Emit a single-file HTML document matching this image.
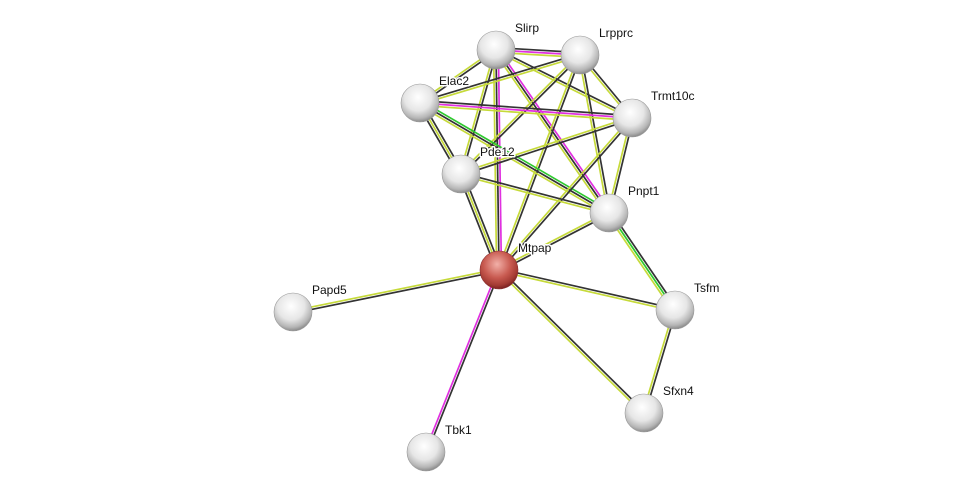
<!DOCTYPE html>
<html><head><meta charset="utf-8"><style>
html,body{margin:0;padding:0;background:#fff;}
svg{display:block;}
text{font-family:"Liberation Sans",Arial,sans-serif;font-size:12px;fill:#111;stroke:#fff;stroke-width:3px;paint-order:stroke;stroke-linejoin:round;}
</style></head><body>
<svg id="s" width="976" height="497" viewBox="0 0 976 497" xmlns="http://www.w3.org/2000/svg">
<defs>
<radialGradient id="g" cx="45%" cy="35%" r="65%">
<stop offset="0" stop-color="#ffffff"/><stop offset="0.55" stop-color="#e6e6e6"/><stop offset="0.85" stop-color="#b5b5b5"/><stop offset="1" stop-color="#8a8a8a"/>
</radialGradient>
<radialGradient id="r" cx="45%" cy="35%" r="65%">
<stop offset="0" stop-color="#f2b0a8"/><stop offset="0.55" stop-color="#c85a50"/><stop offset="0.85" stop-color="#a33a33"/><stop offset="1" stop-color="#7a2020"/>
</radialGradient>
</defs>
<g id="edges"></g><g id="nodes"></g>
</svg>
<script>
var N={Slirp:[496,50],Lrpprc:[580,55],Elac2:[420,103],Trmt10c:[632,118],Pde12:[461,174],Pnpt1:[609,213],Mtpap:[499,270],Papd5:[293,312],Tsfm:[675,310],Sfxn4:[644,413],Tbk1:[426,452]};
var C={k:"#333",y:"#c6da3a",m:"#e030e0",g:"#2ec82e"};
var E=[["Slirp","Lrpprc","kmy"],["Slirp","Elac2","ky"],["Slirp","Trmt10c","ky"],["Slirp","Pde12","ky"],["Slirp","Pnpt1","mky"],["Slirp","Mtpap","mky"],
["Lrpprc","Elac2","yk"],["Lrpprc","Trmt10c","ky"],["Lrpprc","Pde12","ky"],["Lrpprc","Pnpt1","ky"],["Lrpprc","Mtpap","ky"],
["Elac2","Trmt10c","kmy"],["Elac2","Pde12","kyk"],["Elac2","Pnpt1","gky"],["Trmt10c","Pde12","ky"],["Trmt10c","Pnpt1","ky"],["Trmt10c","Mtpap","ky"],
["Pde12","Pnpt1","ky"],["Pde12","Mtpap","kyk"],["Pnpt1","Mtpap","ky"],["Pnpt1","Tsfm","kgy"],["Mtpap","Papd5","ky"],["Mtpap","Tsfm","ky"],
["Mtpap","Sfxn4","ky"],["Mtpap","Tbk1","km"],["Tsfm","Sfxn4","ky"]];
var ns="http://www.w3.org/2000/svg",eg=document.getElementById("edges"),ng=document.getElementById("nodes");
E.forEach(function(e){var a=N[e[0]],b=N[e[1]],dx=b[0]-a[0],dy=b[1]-a[1],l=Math.hypot(dx,dy),px=-dy/l,py=dx/l,n=e[2].length;
for(var i=0;i<n;i++){var o=(i-(n-1)/2)*2.4,L=document.createElementNS(ns,"line");
L.setAttribute("x1",a[0]+px*o);L.setAttribute("y1",a[1]+py*o);L.setAttribute("x2",b[0]+px*o);L.setAttribute("y2",b[1]+py*o);
L.setAttribute("stroke",C[e[2][i]]);L.setAttribute("stroke-width","1.7");eg.appendChild(L);}});
for(var k in N){var p=N[k],c=document.createElementNS(ns,"circle");c.setAttribute("cx",p[0]);c.setAttribute("cy",p[1]);c.setAttribute("r",19);
c.setAttribute("fill",k=="Mtpap"?"url(#r)":"url(#g)");c.setAttribute("stroke",k=="Mtpap"?"#8a3030":"#999");c.setAttribute("stroke-width","0.6");ng.appendChild(c);}
for(var k in N){var p=N[k],t=document.createElementNS(ns,"text");t.setAttribute("x",p[0]+19);t.setAttribute("y",p[1]-18);t.textContent=k;ng.appendChild(t);}
</script>
</body></html>
